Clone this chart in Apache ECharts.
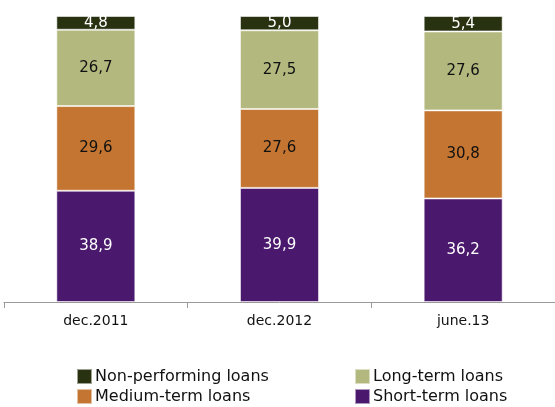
<!DOCTYPE html>
<html><head><meta charset="utf-8">
<script src="https://cdn.jsdelivr.net/npm/echarts@6/dist/echarts.min.js"></script>
<style>html,body{margin:0;padding:0;background:#fff}#c{width:555px;height:407px}</style>
</head><body><div id="c"></div>
<script>
const categories = ['dec.2011', 'dec.2012', 'june.13'];
const shortTerm = [38.9, 39.9, 36.2];
const mediumTerm = [29.6, 27.6, 30.8];
const longTerm = [26.7, 27.5, 27.6];
const nonPerforming = [4.8, 5.0, 5.4];

const font = 'DejaVu Sans';
const fmt = p => p.value.toFixed(1).replace('.', ',');
function mk(name, data, color, labelColor) {
  return {
    name, type: 'bar', stack: 'all', data, barWidth: 79,
    itemStyle: { color, borderColor: 'rgba(255,255,255,0.55)', borderWidth: 1 },
    label: { show: true, position: 'inside', formatter: fmt, color: labelColor, fontFamily: font, fontSize: 15 }
  };
}
const legendBase = {
  orient: 'vertical', top: 368, height: 60, width: 220, padding: 0, itemWidth: 15, itemHeight: 15, itemGap: 3,
  icon: 'rect', textStyle: { fontFamily: font, fontSize: 16, lineHeight: 15, color: '#111', padding: [0,0,0,-2] }
};
const chart = echarts.init(document.getElementById('c'));
chart.setOption({
  animation: false,
  grid: { left: 4, width: 556, top: 16, bottom: 105 },
  xAxis: {
    type: 'category', data: categories,
    axisLine: { lineStyle: { color: '#999' } },
    axisTick: { show: true, length: 6, lineStyle: { color: '#999' } },
    axisLabel: { color: '#111', fontFamily: font, fontSize: 14, margin: 12 }
  },
  yAxis: { type: 'value', min: 0, max: 100, show: false, splitLine: { show: false } },
  legend: [
    Object.assign({}, legendBase, { left: 76, data: ['Non-performing loans', 'Medium-term loans'] }),
    Object.assign({}, legendBase, { left: 354, data: ['Long-term loans', 'Short-term loans'] })
  ],
  series: [
    mk('Short-term loans', shortTerm, '#4a186c', '#fff'),
    mk('Medium-term loans', mediumTerm, '#c37531', '#111'),
    mk('Long-term loans', longTerm, '#b3b87f', '#111'),
    mk('Non-performing loans', nonPerforming, '#283110', '#fff')
  ]
});
</script></body></html>
